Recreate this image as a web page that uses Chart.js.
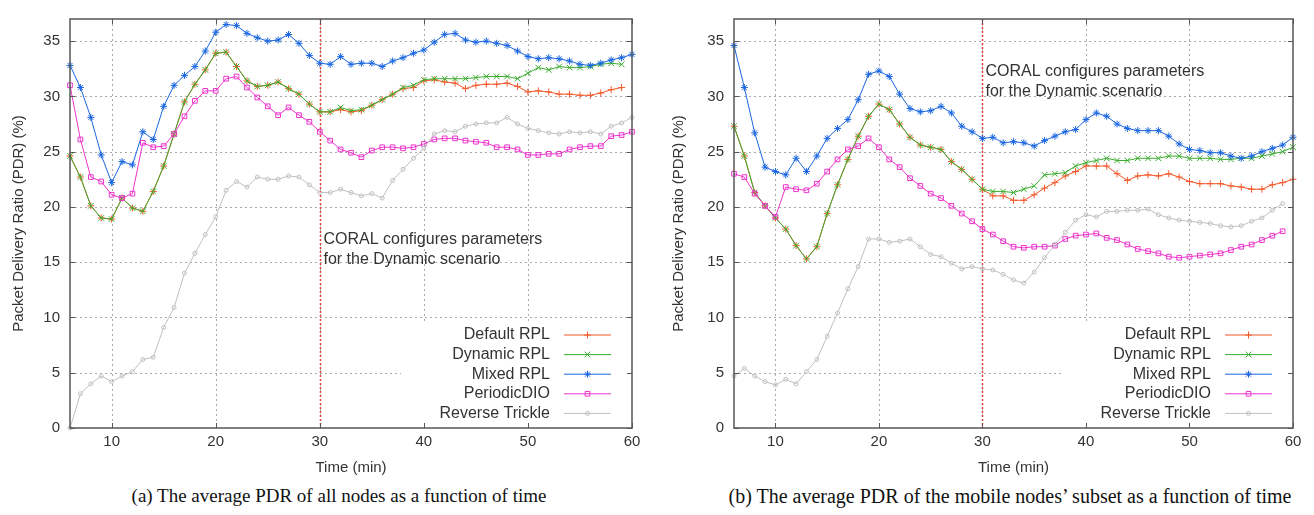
<!DOCTYPE html>
<html>
<head>
<meta charset="utf-8">
<script src="https://cdn.jsdelivr.net/npm/chart.js@4.4.0/dist/chart.umd.min.js"></script>
<style>
  body { margin: 0; background: #fff; width: 1314px; height: 515px; overflow: hidden; position: relative; }
  .panel { position: absolute; top: 0; }
  .caption { position: absolute; top: 485px; font-family: "Liberation Serif", serif; font-size: 19px; color: #111; text-align: center; white-space: nowrap; }
</style>
</head>
<body>
<div class="panel" style="left:0"><canvas id="chartA" width="660" height="480"></canvas></div>
<div class="panel" style="left:660px"><canvas id="chartB" width="654" height="480"></canvas></div>
<div class="caption" style="left:0;width:678px">(a) The average PDR of all nodes as a function of time</div>
<div class="caption" style="left:660px;width:700px;font-size:20px">(b) The average PDR of the mobile nodes’ subset as a function of time</div>
<script>
// Minutes on the x axis (one sample per minute)
const minutes = [6, 7, 8, 9, 10, 11, 12, 13, 14, 15, 16, 17, 18, 19, 20, 21, 22, 23, 24,
  25, 26, 27, 28, 29, 30, 31, 32, 33, 34, 35, 36, 37, 38, 39, 40, 41, 42,
  43, 44, 45, 46, 47, 48, 49, 50, 51, 52, 53, 54, 55, 56, 57, 58, 59, 60];
const xTicks = [10, 20, 30, 40, 50, 60];
const yTicks = [0, 5, 10, 15, 20, 25, 30, 35];
const seriesNames = ['Default RPL', 'Dynamic RPL', 'Mixed RPL', 'PeriodicDIO', 'Reverse Trickle'];

// (a) all nodes
const defaultA = [24.6, 22.7, 20.1, 19.0, 18.9, 20.8, 19.9, 19.6, 21.4, 23.7, 26.6, 29.5, 31.1, 32.4, 33.9, 34.0, 32.7, 31.4, 30.9,
  31.0, 31.3, 30.7, 30.2, 29.3, 28.6, 28.6, 28.8, 28.6, 28.7, 29.2, 29.7, 30.2, 30.7, 30.8, 31.4, 31.5, 31.3,
  31.2, 30.7, 31.0, 31.1, 31.1, 31.2, 30.9, 30.4, 30.5, 30.4, 30.2, 30.2, 30.1, 30.1, 30.3, 30.6, 30.8, null];
const dynamicA = [24.6, 22.7, 20.1, 19.0, 18.9, 20.8, 19.9, 19.6, 21.4, 23.7, 26.6, 29.5, 31.1, 32.4, 33.9, 34.0, 32.7, 31.4, 30.9,
  31.0, 31.3, 30.7, 30.2, 29.3, 28.6, 28.6, 29.0, 28.7, 28.8, 29.2, 29.7, 30.2, 30.8, 31.0, 31.5, 31.6, 31.6,
  31.6, 31.6, 31.7, 31.8, 31.8, 31.8, 31.6, 32.1, 32.6, 32.4, 32.7, 32.6, 32.6, 32.7, 32.9, 33.0, 32.9, null];
const mixedA = [32.8, 30.8, 28.1, 24.7, 22.2, 24.1, 23.8, 26.8, 26.1, 29.1, 31.0, 31.9, 32.7, 34.1, 35.8, 36.5, 36.4, 35.7, 35.3,
  35.0, 35.1, 35.6, 34.8, 33.7, 33.0, 32.9, 33.6, 32.9, 33.0, 33.0, 32.7, 33.2, 33.5, 33.9, 34.2, 34.9, 35.6,
  35.7, 35.1, 34.9, 35.0, 34.8, 34.6, 34.1, 33.6, 33.4, 33.5, 33.4, 33.2, 32.9, 32.8, 33.0, 33.3, 33.5, 33.8];
const periodicA = [31.0, 26.1, 22.7, 22.3, 21.1, 20.8, 21.2, 25.8, 25.4, 25.5, 26.6, 28.2, 29.6, 30.5, 30.5, 31.6, 31.8, 30.8, 29.9,
  29.1, 28.3, 29.0, 28.3, 27.7, 26.8, 26.0, 25.2, 24.9, 24.5, 25.1, 25.4, 25.4, 25.3, 25.4, 25.7, 26.1, 26.2,
  26.2, 26.0, 25.9, 25.8, 25.4, 25.4, 25.2, 24.7, 24.7, 24.8, 24.8, 25.2, 25.4, 25.5, 25.5, 26.4, 26.5, 26.8];
const reverseA = [0.0, 3.1, 4.0, 4.7, 4.2, 4.7, 5.1, 6.2, 6.4, 9.1, 10.9, 14.0, 15.8, 17.5, 19.1, 21.5, 22.3, 21.8, 22.7,
  22.5, 22.5, 22.8, 22.7, 22.0, 21.3, 21.3, 21.6, 21.3, 21.0, 21.2, 20.8, 22.4, 23.4, 24.4, 25.3, 26.6, 26.9,
  26.8, 27.3, 27.5, 27.6, 27.6, 28.1, 27.5, 27.1, 26.9, 26.7, 26.6, 26.8, 26.7, 26.8, 26.6, 27.3, 27.6, 28.1];

// (b) mobile nodes' subset
const defaultB = [27.3, 24.6, 21.3, 20.1, 19.0, 18.0, 16.5, 15.3, 16.4, 19.4, 22.0, 24.3, 26.4, 28.2, 29.3, 28.8, 27.5, 26.3, 25.6,
  25.4, 25.2, 24.1, 23.4, 22.5, 21.6, 21.0, 21.0, 20.6, 20.6, 21.1, 21.7, 22.2, 22.8, 23.2, 23.7, 23.7, 23.7,
  23.0, 22.4, 22.8, 22.9, 22.8, 23.0, 22.7, 22.3, 22.1, 22.1, 22.1, 21.9, 21.8, 21.6, 21.6, 22.0, 22.2, 22.5];
const dynamicB = [27.3, 24.6, 21.3, 20.1, 19.0, 18.0, 16.5, 15.3, 16.4, 19.4, 22.0, 24.3, 26.4, 28.2, 29.3, 28.8, 27.5, 26.3, 25.6,
  25.4, 25.2, 24.1, 23.4, 22.5, 21.6, 21.4, 21.4, 21.3, 21.6, 21.9, 22.9, 23.0, 23.1, 23.7, 24.0, 24.2, 24.4,
  24.2, 24.2, 24.4, 24.4, 24.4, 24.6, 24.6, 24.4, 24.4, 24.4, 24.3, 24.3, 24.4, 24.4, 24.6, 24.8, 25.0, 25.4];
const mixedB = [34.6, 30.8, 26.7, 23.6, 23.2, 22.9, 24.4, 23.2, 24.6, 26.2, 27.1, 27.9, 29.7, 32.0, 32.3, 31.8, 30.2, 28.9, 28.6,
  28.7, 29.1, 28.5, 27.3, 26.8, 26.2, 26.3, 25.8, 25.9, 25.8, 25.5, 26.0, 26.4, 26.8, 27.0, 27.9, 28.5, 28.2,
  27.5, 27.1, 26.9, 26.9, 26.9, 26.4, 25.7, 25.2, 25.1, 24.9, 24.9, 24.6, 24.4, 24.6, 25.0, 25.3, 25.6, 26.3];
const periodicB = [23.0, 22.7, 21.2, 20.1, 19.1, 21.8, 21.6, 21.5, 22.1, 23.2, 24.3, 25.2, 25.5, 26.2, 25.4, 24.3, 23.6, 22.6, 21.9,
  21.2, 20.8, 20.1, 19.4, 18.7, 18.0, 17.5, 16.9, 16.4, 16.3, 16.4, 16.4, 16.5, 17.1, 17.4, 17.5, 17.6, 17.2,
  17.0, 16.6, 16.2, 16.0, 15.8, 15.5, 15.4, 15.5, 15.6, 15.7, 15.8, 16.1, 16.4, 16.6, 17.0, 17.4, 17.8, null];
const reverseB = [4.7, 5.4, 4.7, 4.2, 3.9, 4.4, 4.0, 5.1, 6.2, 8.3, 10.4, 12.6, 14.6, 17.1, 17.1, 16.8, 16.9, 17.1, 16.4,
  15.7, 15.5, 14.9, 14.4, 14.6, 14.4, 14.3, 13.9, 13.4, 13.1, 14.1, 15.4, 16.6, 17.7, 18.8, 19.3, 19.1, 19.6,
  19.6, 19.7, 19.7, 19.8, 19.3, 19.0, 18.8, 18.7, 18.6, 18.5, 18.3, 18.2, 18.3, 18.7, 19.0, 19.7, 20.3, null];

const FONT = '"Liberation Sans", Arial, sans-serif';
const TEXT = '#333';

// one look per series, gnuplot style
const looks = [
  { color: '#f4582a', pointStyle: 'cross', radius: 3.5 },
  { color: '#3aac2e', pointStyle: 'crossRot', radius: 4 },
  { color: '#1a66e0', pointStyle: 'star', radius: 3.5 },
  { color: '#ee33cc', pointStyle: 'rect', radius: 3.3 },
  { color: '#c0c0c0', pointStyle: 'circle', radius: 2 }
];

const line = (ctx, x1, y1, x2, y2) => { ctx.beginPath(); ctx.moveTo(x1, y1); ctx.lineTo(x2, y2); ctx.stroke(); };

// grid, legend backdrop, marker line and note under the data; frame and legend on top
const gnuplotLook = {
  id: 'gnuplotLook',
  beforeDatasetsDraw(chart, args, o) {
    const { ctx, chartArea: a, scales: { x, y } } = chart;
    ctx.save();
    ctx.strokeStyle = '#aaaaaa';
    ctx.lineWidth = 1;
    ctx.setLineDash([2, 3]);
    yTicks.forEach(v => {
      if (v <= 0) return;
      const py = Math.round(y.getPixelForValue(v)) + 0.5;
      line(ctx, a.left, py, a.right, py);
    });
    xTicks.forEach(v => {
      if (v >= 60) return;
      const px = Math.round(x.getPixelForValue(v)) + 0.5;
      line(ctx, px, a.top, px, a.bottom);
    });
    ctx.setLineDash([]);
    ctx.fillStyle = '#fff';
    ctx.fillRect(a.right - 231, a.bottom - 105, 231, 105);
    // CORAL switch marker
    const mx = Math.round(x.getPixelForValue(o.markAt)) + 0.5;
    ctx.strokeStyle = '#e8443c';
    ctx.lineWidth = 1.5;
    ctx.setLineDash([2, 2]);
    line(ctx, mx, a.top, mx, a.bottom);
    ctx.setLineDash([]);
    ctx.fillStyle = TEXT;
    ctx.font = '16px ' + FONT;
    ctx.textBaseline = 'middle';
    ctx.textAlign = 'left';
    const ny = y.getPixelForValue(o.noteY);
    o.note.forEach((t, i) => ctx.fillText(t, mx + 3, ny + i * 20));
    ctx.restore();
  },
  afterDatasetsDraw(chart) {
    const { ctx, chartArea: a, scales: { x, y } } = chart;
    ctx.save();
    ctx.strokeStyle = '#555';
    ctx.lineWidth = 1.5;
    ctx.strokeRect(a.left, a.top, a.right - a.left, a.bottom - a.top);
    ctx.lineWidth = 1;
    yTicks.forEach(v => {
      const py = Math.round(y.getPixelForValue(v)) + 0.5;
      line(ctx, a.left, py, a.left + 5, py);
      line(ctx, a.right - 5, py, a.right, py);
    });
    xTicks.forEach(v => {
      const px = Math.round(x.getPixelForValue(v)) + 0.5;
      line(ctx, px, a.bottom, px, a.bottom - 5);
      line(ctx, px, a.top, px, a.top + 5);
    });
    // key
    ctx.font = '16px ' + FONT;
    ctx.textAlign = 'right';
    ctx.textBaseline = 'middle';
    chart.data.datasets.forEach((ds, i) => {
      const ry = a.bottom - 93 + i * 19.6;
      ctx.fillStyle = TEXT;
      ctx.fillText(ds.label, a.right - 82, ry);
      ctx.strokeStyle = ds.borderColor;
      ctx.lineWidth = ds.borderWidth;
      line(ctx, a.right - 68, ry, a.right - 21, ry);
      ctx.fillStyle = 'rgba(0,0,0,0)';
      ctx.lineWidth = 1;
      Chart.helpers.drawPoint(ctx, { pointStyle: ds.pointStyle, radius: ds.pointRadius, rotation: 0, borderWidth: 1 }, a.right - 44.5, ry);
    });
    ctx.restore();
  }
};

function makeChart(id, series, yAxisWidth, rightPad, note, noteY) {
  const datasets = series.map((vals, i) => ({
    label: seriesNames[i],
    data: minutes.map((m, j) => ({ x: m, y: vals[j] })),
    borderColor: looks[i].color,
    backgroundColor: 'rgba(0,0,0,0)',
    pointBackgroundColor: 'rgba(0,0,0,0)',
    pointBorderColor: looks[i].color,
    borderWidth: 1,
    pointBorderWidth: 1,
    pointStyle: looks[i].pointStyle,
    pointRadius: looks[i].radius,
    tension: 0,
    clip: 6,
    order: 5 - i
  }));
  return new Chart(document.getElementById(id), {
    type: 'line',
    data: { datasets },
    options: {
      responsive: false,
      animation: false,
      events: [],
      layout: { padding: { top: 8, right: rightPad, left: 0, bottom: 0 } },
      plugins: {
        legend: { display: false },
        tooltip: { enabled: false },
        gnuplotLook: { markAt: 30, note, noteY }
      },
      scales: {
        x: {
          type: 'linear', min: 6, max: 60,
          afterBuildTicks: s => { s.ticks = xTicks.map(v => ({ value: v })); },
          afterFit: s => { s.height = 52; },
          grid: { display: false, drawTicks: false },
          border: { display: false },
          ticks: { font: { family: FONT, size: 15 }, color: TEXT, padding: 5, maxRotation: 0, autoSkip: false },
          title: { display: true, text: 'Time (min)', font: { family: FONT, size: 15 }, color: TEXT, padding: { top: 0, bottom: 3 } }
        },
        y: {
          type: 'linear', min: 0, max: 37,
          afterBuildTicks: s => { s.ticks = yTicks.map(v => ({ value: v })); },
          afterFit: s => { s.width = yAxisWidth; },
          grid: { display: false, drawTicks: false },
          border: { display: false },
          ticks: { font: { family: FONT, size: 15 }, color: TEXT, padding: 10 },
          title: { display: true, text: 'Packet Delivery Ratio (PDR) (%)', font: { family: FONT, size: 15 }, color: TEXT, padding: { top: 10, bottom: 0 } }
        }
      }
    },
    plugins: [gnuplotLook]
  });
}

makeChart('chartA', [defaultA, dynamicA, mixedA, periodicA, reverseA], 70, 28,
  ['CORAL configures parameters', 'for the Dynamic scenario'], 17.0);
makeChart('chartB', [defaultB, dynamicB, mixedB, periodicB, reverseB], 74, 21,
  ['CORAL configures parameters', 'for the Dynamic scenario'], 32.2);
</script>
</body>
</html>
